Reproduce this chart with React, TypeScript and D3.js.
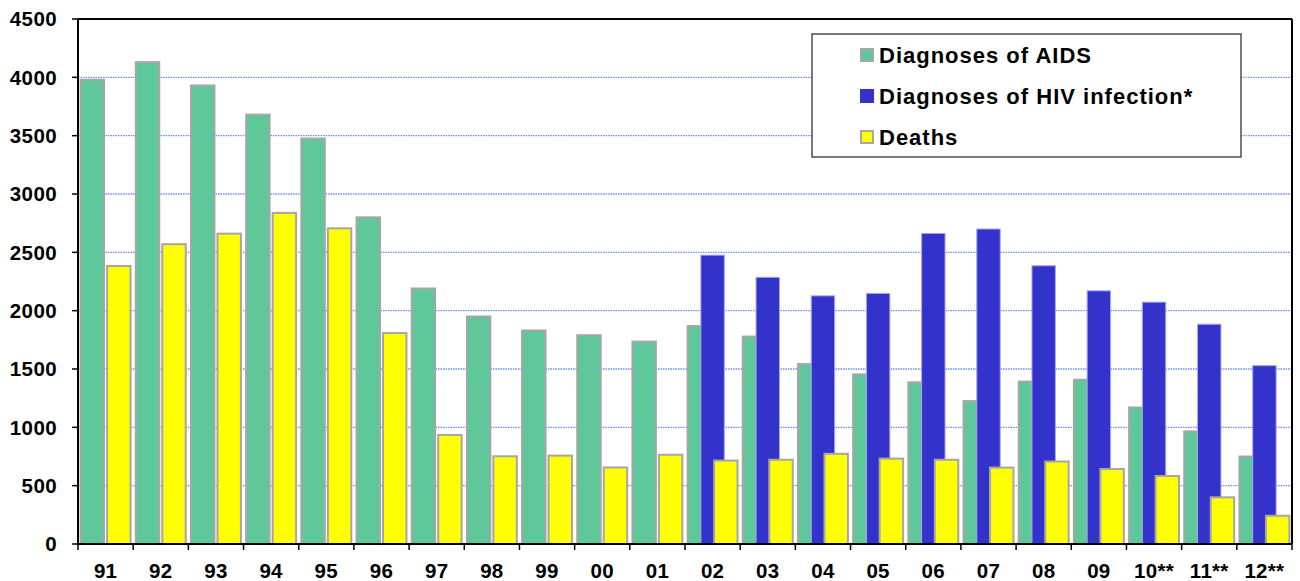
import * as d3 from "d3";

const years = ["91", "92", "93", "94", "95", "96", "97", "98", "99", "00", "01", "02", "03", "04", "05", "06", "07", "08", "09", "10**", "11**", "12**"];
const aids = [3980, 4130, 3930, 3680, 3475, 2800, 2190, 1950, 1830, 1790, 1735, 1868, 1778, 1542, 1454, 1386, 1225, 1392, 1408, 1170, 965, 750];
const hiv: (number | null)[] = [null, null, null, null, null, null, null, null, null, null, null, 2476, 2286, 2127, 2148, 2662, 2700, 2385, 2170, 2073, 1884, 1529];
const deaths = [2383, 2570, 2660, 2838, 2706, 1808, 935, 752, 758, 656, 765, 715, 722, 773, 732, 722, 655, 707, 643, 583, 400, 242];
const yTicks = [0, 500, 1000, 1500, 2000, 2500, 3000, 3500, 4000, 4500];

const seriesNames = ["Diagnoses of AIDS", "Diagnoses of HIV infection*", "Deaths"];
const fills = ["#5fc89a", "#3333cc", "#ffff00"];
const strokes = ["#a6a6a6", "#a8a8f0", "#a6a6a6"];

const W = 1300;
const H = 581;
const left = 78;
const right = 1292;
const top = 19;
const bottom = 544;

export default function App() {
  const x = d3.scaleBand<string>().domain(years).range([left, right]).paddingInner(0).paddingOuter(0);
  const y = d3.scaleLinear().domain([0, 4500]).range([bottom, top]);
  const step = x.bandwidth();
  const barW = step * 0.425;
  const shift = step * 0.24;
  const pad = (step - barW - 2 * shift) / 2;

  const series = [aids, hiv, deaths];

  return (
    <svg width={W} height={H} style={{ position: "absolute", left: 0, top: 0 }} fontFamily="'Liberation Sans', Arial, sans-serif" fontWeight="bold">
      <rect x={0} y={0} width={W} height={H} fill="#fff" />
      {/* grid */}
      {yTicks.filter((t) => t > 0 && t < 4500).map((t) => (
        <line key={t} x1={left} x2={right} y1={y(t)} y2={y(t)} stroke="#6d8cff" strokeWidth={1.3} strokeDasharray="1.5,1" />
      ))}
      {/* bars */}
      {years.map((yr, i) => (
        <g key={yr}>
          {series.map((s, k) => {
            const v = s[i];
            if (v == null) return null;
            const bx = x(yr)! + pad + k * shift;
            return (
              <rect key={k} x={bx} y={y(v)} width={barW} height={bottom - y(v)} fill={fills[k]} stroke={strokes[k]} strokeWidth={k === 1 ? 1 : 2} />
            );
          })}
        </g>
      ))}
      {/* plot border */}
      <line x1={left} x2={right} y1={top} y2={top} stroke="#000" strokeWidth={2} />
      <line x1={right} x2={right} y1={top} y2={bottom} stroke="#000" strokeWidth={2} />
      <line x1={left} x2={left} y1={top} y2={bottom + 1} stroke="#000" strokeWidth={2} />
      <line x1={left} x2={right} y1={bottom} y2={bottom} stroke="#000" strokeWidth={2} />
      {/* y axis */}
      {yTicks.map((t) => (
        <g key={t}>
          <line x1={left - 6} x2={left} y1={y(t)} y2={y(t)} stroke="#000" strokeWidth={1.5} />
          <text x={57} y={y(t)} dy="0.36em" textAnchor="end" fontSize={20.5} letterSpacing={0.4}>{t}</text>
        </g>
      ))}
      {/* x axis */}
      {years.map((yr) => (
        <line key={yr} x1={x(yr)!} x2={x(yr)!} y1={bottom} y2={bottom + 6} stroke="#000" strokeWidth={1.5} />
      ))}
      <line x1={right} x2={right} y1={bottom} y2={bottom + 6} stroke="#000" strokeWidth={1.5} />
      {years.map((yr) => (
        <text key={yr} x={x(yr)! + step / 2} y={578} textAnchor="middle" fontSize={20.5} letterSpacing={0.3}>{yr}</text>
      ))}
      {/* legend */}
      <rect x={812} y={34} width={429} height={123} fill="#fff" stroke="#222" strokeWidth={1.2} />
      {seriesNames.map((n, k) => {
        const cy = 55 + k * 41;
        return (
          <g key={n}>
            <rect x={861} y={cy - 6} width={12} height={12} fill={fills[k]} stroke={k === 1 ? fills[k] : "#a6a6a6"} strokeWidth={2} />
            <text x={879} y={cy} dy="0.36em" fontSize={22} letterSpacing={1}>{n}</text>
          </g>
        );
      })}
    </svg>
  );
}
